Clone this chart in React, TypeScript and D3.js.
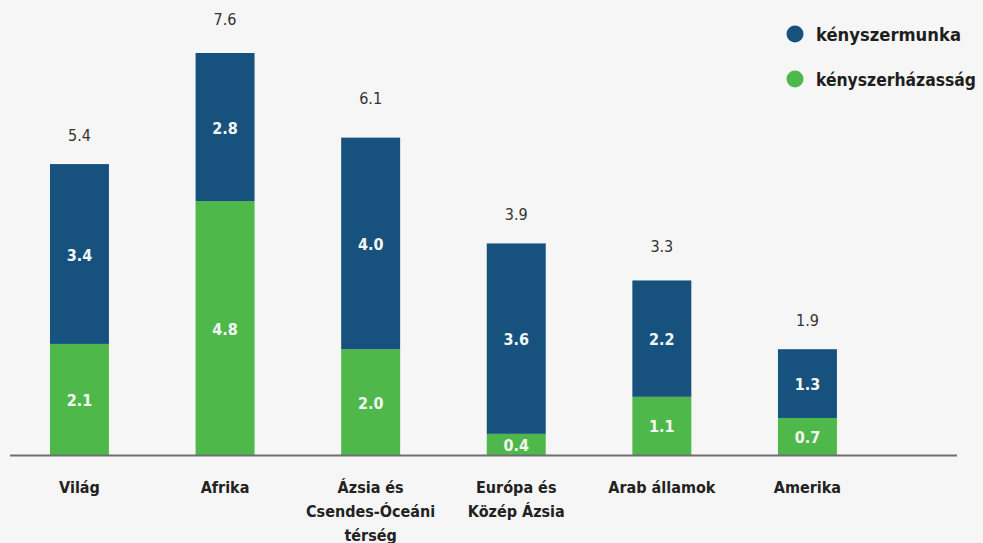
import React from "react";
import * as d3 from "d3";

const categories: string[][] = [
  ["Világ"],
  ["Afrika"],
  ["Ázsia és", "Csendes-Óceáni", "térség"],
  ["Európa és", "Közép Ázsia"],
  ["Arab államok"],
  ["Amerika"],
];
const marriage = [2.1, 4.8, 2.0, 0.4, 1.1, 0.7];
const labour = [3.4, 2.8, 4.0, 3.6, 2.2, 1.3];
const totals = [5.4, 7.6, 6.1, 3.9, 3.3, 1.9];
const seriesNames = ["kényszermunka", "kényszerházasság"];
const legendWidths = [145, 160];

const W = 983;
const H = 543;
const BLUE = "#17527e";
const GREEN = "#4fb84a";
const FONT = "'DejaVu Sans Condensed', 'DejaVu Sans', sans-serif";

export default function App() {
  const keys = categories.map((c) => c.join(" "));
  const x = d3
    .scaleBand<string>()
    .domain(keys)
    .range([6.3, 880.6])
    .paddingInner(0.595)
    .paddingOuter(0.3);
  const baseY = 455;
  const y = d3.scaleLinear().domain([0, 7.6]).range([baseY, 53]);

  const rows = keys.map((k, i) => ({ key: k, marriage: marriage[i], labour: labour[i] }));
  const stack = d3.stack<any>().keys(["marriage", "labour"])(rows);
  const colors = [GREEN, BLUE];

  return (
    <svg
      width={W}
      height={H}
      style={{ position: "absolute", left: 0, top: 0, background: "#f6f6f6" }}
      fontFamily={FONT}
    >
      <rect x={0} y={0} width={W} height={H} fill="#f6f6f6" />
      {stack.map((s, si) =>
        s.map((d, i) => {
          const x0 = x(keys[i])!;
          const y0 = y(d[1]);
          const y1 = y(d[0]);
          const v = si === 0 ? marriage[i] : labour[i];
          return (
            <g key={`${si}-${i}`}>
              <rect x={x0} y={y0} width={x.bandwidth()} height={y1 - y0} fill={colors[si]} />
              <text
                x={x0 + x.bandwidth() / 2}
                y={(y0 + y1) / 2 + 1}
                textAnchor="middle"
                dominantBaseline="central"
                fill="#f4f8f4"
                fontSize={16}
                fontWeight="bold"
              >
                {v.toFixed(1)}
              </text>
            </g>
          );
        })
      )}
      {totals.map((t, i) => (
        <text
          key={`t${i}`}
          x={x(keys[i])! + x.bandwidth() / 2}
          y={y(t) - 34}
          textAnchor="middle"
          dominantBaseline="central"
          fill="#333"
          fontSize={16}
        >
          {t.toFixed(1)}
        </text>
      ))}
      <line x1={10} x2={957} y1={baseY + 0.5} y2={baseY + 0.5} stroke="#6e6e6e" strokeWidth={2} />
      {categories.map((lines, i) => (
        <text
          key={`c${i}`}
          x={x(keys[i])! + x.bandwidth() / 2}
          textAnchor="middle"
          fill="#222"
          fontSize={16}
          fontWeight="bold"
        >
          {lines.map((l, j) => (
            <tspan key={j} x={x(keys[i])! + x.bandwidth() / 2} y={487 + j * 24} dominantBaseline="central">
              {l}
            </tspan>
          ))}
        </text>
      ))}
      {seriesNames.map((n, i) => (
        <g key={n} transform={`translate(795, ${34 + i * 45})`}>
          <circle r={8.5} fill={i === 0 ? BLUE : GREEN} />
          <text
            x={21}
            dominantBaseline="central"
            fontSize={18}
            fontWeight="bold"
            fill="#1e1e1e"
            textLength={legendWidths[i]}
            lengthAdjust="spacingAndGlyphs"
          >
            {n}
          </text>
        </g>
      ))}
    </svg>
  );
}
